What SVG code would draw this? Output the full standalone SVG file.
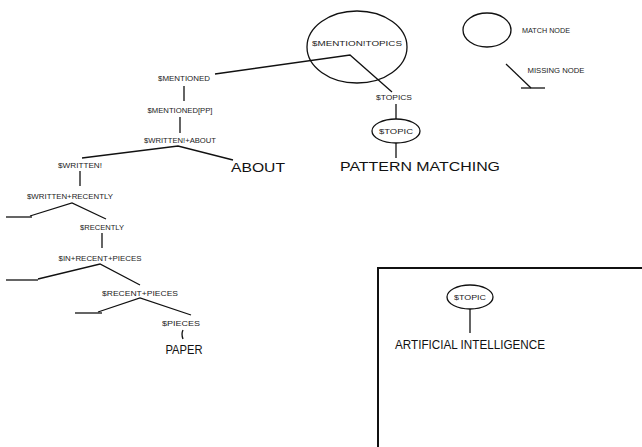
<svg xmlns="http://www.w3.org/2000/svg" width="642" height="447" viewBox="0 0 642 447">
<style>
.s{font-family:"Liberation Sans",Arial,sans-serif;font-size:8px;fill:#222;text-anchor:middle}
.b{font-family:"Liberation Sans",Arial,sans-serif;font-size:13px;fill:#111;text-anchor:middle}
.ln{stroke:#111;stroke-width:1.3;fill:none}
.el{stroke:#111;stroke-width:1.3;fill:none}
</style>
<rect width="642" height="447" fill="#fff"/>
<g id="connectors">
<polyline class="ln" points="215,74 350,55 392,92"/>
<line class="ln" x1="184" y1="86" x2="184" y2="101"/>
<line class="ln" x1="180" y1="117" x2="180" y2="133"/>
<polyline class="ln" points="82,158 178,146 233,160"/>
<line class="ln" x1="80" y1="171" x2="80" y2="186"/>
<polyline class="ln" points="30,216 72,203 106,219"/>
<line class="ln" x1="6" y1="217" x2="32" y2="217"/>
<line class="ln" x1="102" y1="233" x2="102" y2="248"/>
<polyline class="ln" points="38,279 100,264 140,285"/>
<line class="ln" x1="6" y1="280" x2="38" y2="280"/>
<polyline class="ln" points="98,312 140,298 191,315"/>
<line class="ln" x1="75" y1="313" x2="102" y2="313"/>
<path class="ln" d="M183,330 Q181,334 183,339"/>
<line class="ln" x1="396" y1="104" x2="396" y2="119"/>
<line class="ln" x1="396" y1="143" x2="396" y2="158"/>
<line class="ln" x1="470" y1="309" x2="470" y2="333"/>
</g>
<g id="n_root">
<ellipse class="el" cx="357" cy="47" rx="50" ry="36"/>
<text class="s" x="357" y="46" textLength="90" lengthAdjust="spacingAndGlyphs">$MENTION!TOPICS</text>
</g>
<g id="n_mentioned"><text class="s" x="184" y="81" textLength="52" lengthAdjust="spacingAndGlyphs">$MENTIONED</text></g>
<g id="n_mentionedpp"><text class="s" x="180" y="113" textLength="65" lengthAdjust="spacingAndGlyphs">$MENTIONED[PP]</text></g>
<g id="n_writtenabout"><text class="s" x="180" y="143" textLength="72" lengthAdjust="spacingAndGlyphs">$WRITTEN!+ABOUT</text></g>
<g id="n_written"><text class="s" x="80" y="168" textLength="44" lengthAdjust="spacingAndGlyphs">$WRITTEN!</text></g>
<g id="n_about"><text class="b" x="258" y="172" textLength="54" lengthAdjust="spacingAndGlyphs">ABOUT</text></g>
<g id="n_writtenrecently"><text class="s" x="70" y="199" textLength="86" lengthAdjust="spacingAndGlyphs">$WRITTEN+RECENTLY</text></g>
<g id="n_recently"><text class="s" x="102" y="230" textLength="44" lengthAdjust="spacingAndGlyphs">$RECENTLY</text></g>
<g id="n_inrecentpieces"><text class="s" x="100" y="261" textLength="83" lengthAdjust="spacingAndGlyphs">$IN+RECENT+PIECES</text></g>
<g id="n_recentpieces"><text class="s" x="140" y="296" textLength="76" lengthAdjust="spacingAndGlyphs">$RECENT+PIECES</text></g>
<g id="n_pieces"><text class="s" x="181" y="326" textLength="38" lengthAdjust="spacingAndGlyphs">$PIECES</text></g>
<g id="n_paper"><text class="b" x="184" y="354" textLength="37" lengthAdjust="spacingAndGlyphs">PAPER</text></g>
<g id="n_topics"><text class="s" x="394" y="100" textLength="36" lengthAdjust="spacingAndGlyphs">$TOPICS</text></g>
<g id="n_topic1">
<ellipse class="el" cx="396" cy="131" rx="24" ry="12"/>
<text class="s" x="396" y="134" textLength="34" lengthAdjust="spacingAndGlyphs">$TOPIC</text>
</g>
<g id="n_pattern"><text class="b" x="420" y="171" textLength="160" lengthAdjust="spacingAndGlyphs">PATTERN MATCHING</text></g>
<g id="legend">
<ellipse class="el" cx="487" cy="30" rx="24" ry="17"/>
<text class="s" x="546" y="33" font-size="6.5" textLength="48" lengthAdjust="spacingAndGlyphs">MATCH NODE</text>
<line class="ln" x1="506" y1="64" x2="531" y2="88"/>
<line class="ln" x1="521" y1="88" x2="545" y2="88"/>
<text class="s" x="556" y="73" font-size="6.5" textLength="57" lengthAdjust="spacingAndGlyphs">MISSING NODE</text>
</g>
<g id="box">
<polyline points="378,447 378,268 642,268" fill="none" stroke="#111" stroke-width="2"/>
</g>
<g id="n_topic2">
<ellipse class="el" cx="470" cy="297" rx="23" ry="12"/>
<text class="s" x="470" y="300" textLength="32" lengthAdjust="spacingAndGlyphs">$TOPIC</text>
</g>
<g id="n_ai"><text class="b" x="470" y="349" font-size="12" textLength="150" lengthAdjust="spacingAndGlyphs">ARTIFICIAL INTELLIGENCE</text></g>
</svg>
